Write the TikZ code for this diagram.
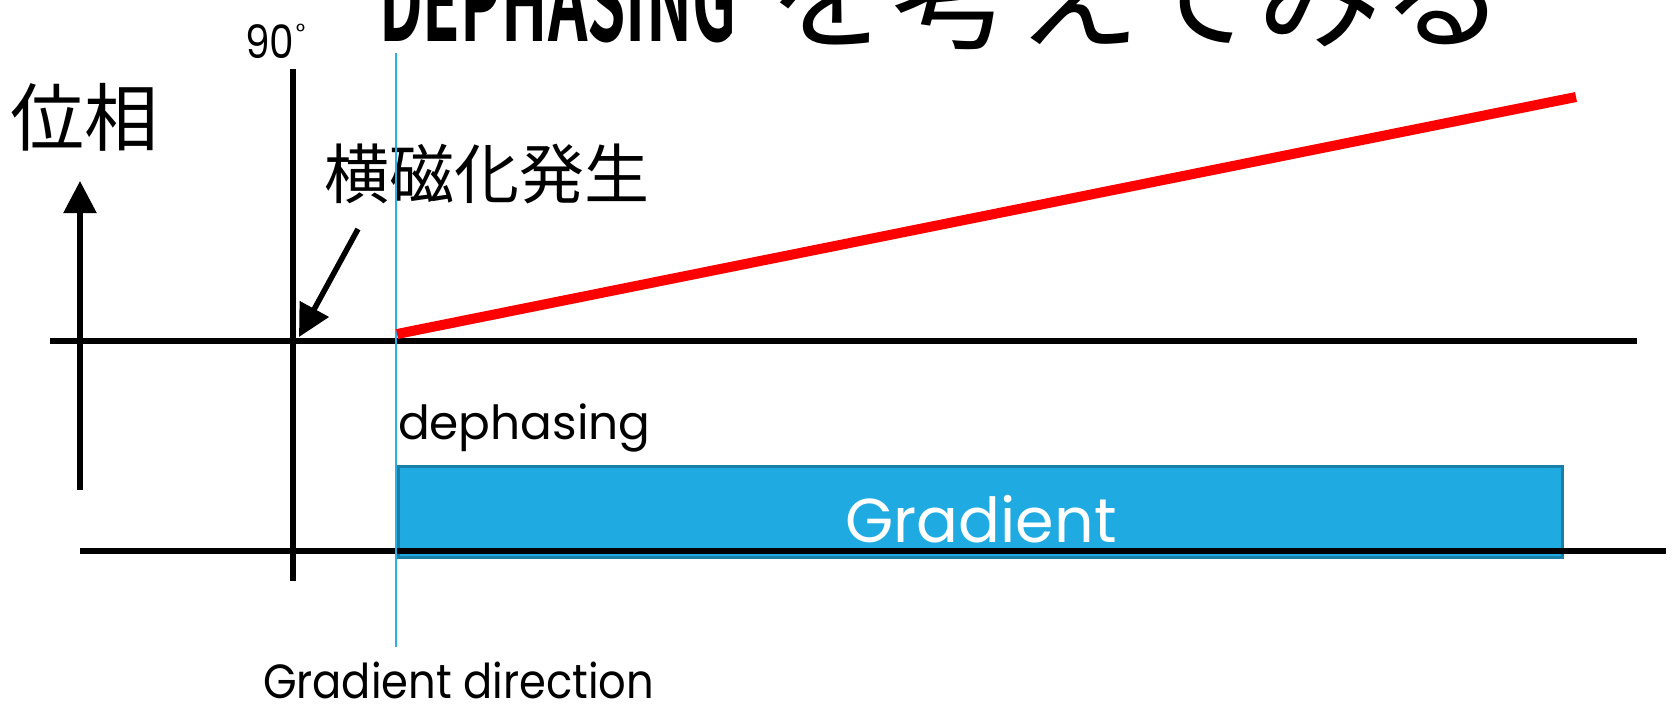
\documentclass[tikz,border=0pt]{standalone}
\usepackage{fontspec}
\setmainfont{Poppins}
\newfontfamily\jp{Noto Sans CJK JP}
\newfontfamily\jpb{Noto Sans CJK JP Bold}
\usetikzlibrary{arrows.meta}
\definecolor{gradfill}{HTML}{1FABE2}
\definecolor{graddraw}{HTML}{1A7FA6}
\definecolor{cyanline}{HTML}{29B0E6}
\definecolor{phasered}{HTML}{FF0000}
\tikzset{
  axis/.style={line width=5.5pt, black},
  arrowline/.style={line width=5.5pt, black, -{Triangle[width=32pt,length=32pt]}},
  lbl/.style={inner sep=0pt, outer sep=0pt},
}
\begin{document}
\begin{tikzpicture}[x=1pt,y=-1pt]
\useasboundingbox (0,0) rectangle (1672,713);
\clip (0,0) rectangle (1672,713);
% title
\node[lbl, anchor=south west] (t1) at (379,43) {\resizebox{357pt}{82pt}{\jpb DEPHASING}};
\node[lbl, anchor=base west] (t2) at (768,39) {\fontsize{124pt}{124pt}\selectfont\jp を考えてみる};
% coordinates
\coordinate (vtop) at (293,69);
\coordinate (vbot) at (293,581);
\coordinate (cytop) at (396,53);
\coordinate (cybot) at (396,647);
\coordinate (h1a) at (50,341);
\coordinate (h1b) at (1637,341);
\coordinate (h2a) at (80,551);
\coordinate (h2b) at (1666,551);
\coordinate (upa) at (80,490);
\coordinate (upb) at (80,181);
\coordinate (da) at (358,229);
\coordinate (db) at (299,337);
\coordinate (ra) at (397,334);
\coordinate (rb) at (1576,97);
% texts
\node[lbl, anchor=base west] (deg) at (245,58) {\scalebox{0.85}[1]{\fontsize{46pt}{46pt}\selectfont 90}\hspace{2pt}\raisebox{19pt}{\fontsize{22pt}{22pt}\selectfont\char"00B0}};
\node[lbl] (phase) at (84,117) {\fontsize{74pt}{74pt}\selectfont\jp 位相};
\node[lbl] (trans) at (487,174) {\fontsize{65pt}{65pt}\selectfont\jp 横磁化発生};
\node[lbl, anchor=base west] (deph) at (398,439) {\fontsize{47pt}{47pt}\selectfont dephasing};
% gradient box
\node[lbl, draw=graddraw, line width=3pt, fill=gradfill, minimum width=1164pt, minimum height=91pt, anchor=north west] (box) at (398,466) {};
\node[lbl, text=white] (gtext) at (981,519) {\fontsize{62pt}{62pt}\selectfont Gradient};
\node[lbl, anchor=base west] (gdir) at (263,698) {\scalebox{0.9}[1]{\fontsize{48pt}{48pt}\selectfont Gradient direction}};
% lines
\draw[axis] (vtop) -- (vbot);
\draw[axis] (h1a) -- (h1b);
\draw[axis] (h2a) -- (h2b);
\draw[arrowline] (upa) -- (upb);
\draw[arrowline] (da) -- (db);
\draw[cyanline, line width=1.6pt] (cytop) -- (cybot);
\draw[phasered, line width=10pt] (ra) -- (rb);
\end{tikzpicture}
\end{document}
